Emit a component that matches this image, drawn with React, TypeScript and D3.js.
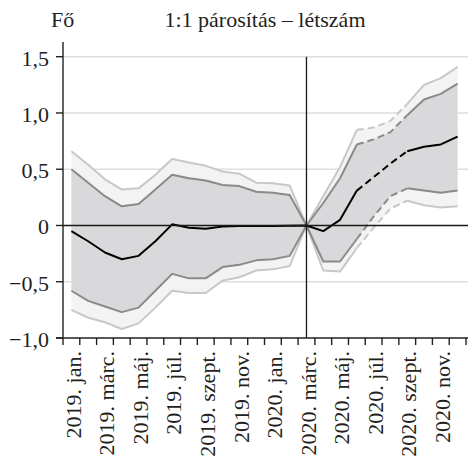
import * as d3 from "d3"

const months = [
  "2019. jan.", "2019. febr.", "2019. márc.", "2019. ápr.", "2019. máj.", "2019. jún.",
  "2019. júl.", "2019. aug.", "2019. szept.", "2019. okt.", "2019. nov.", "2019. dec.",
  "2020. jan.", "2020. febr.", "2020. márc.", "2020. ápr.", "2020. máj.", "2020. jún.",
  "2020. júl.", "2020. aug.", "2020. szept.", "2020. okt.", "2020. nov.", "2020. dec.",
]

// impulse response: median and the two confidence bands
const median = [
  -0.05, -0.14, -0.24, -0.3, -0.27, -0.14, 0.01, -0.02, -0.03, -0.01, -0.005, -0.005,
  -0.005, -0.003, 0, -0.05, 0.05, 0.31, 0.43, 0.55, 0.66, 0.7, 0.72, 0.79,
]
const innerUpper = [
  0.5, 0.38, 0.26, 0.17, 0.19, 0.32, 0.45, 0.42, 0.4, 0.36, 0.35, 0.3,
  0.29, 0.27, 0, 0.2, 0.42, 0.72, 0.765, 0.83, 0.98, 1.12, 1.17, 1.26,
]
const outerUpper = [
  0.66, 0.54, 0.41, 0.32, 0.33, 0.45, 0.59, 0.56, 0.53, 0.48, 0.46, 0.38,
  0.375, 0.355, 0, 0.26, 0.52, 0.85, 0.87, 0.93, 1.08, 1.25, 1.31, 1.41,
]
const innerLower = [
  -0.58, -0.67, -0.72, -0.77, -0.73, -0.58, -0.43, -0.47, -0.47, -0.37, -0.35, -0.31,
  -0.3, -0.27, 0, -0.32, -0.32, -0.12, 0.08, 0.26, 0.33, 0.31, 0.29, 0.31,
]
const outerLower = [
  -0.75, -0.82, -0.86, -0.92, -0.87, -0.73, -0.58, -0.6, -0.6, -0.49, -0.46, -0.4,
  -0.39, -0.36, 0, -0.4, -0.41, -0.2, -0.02, 0.15, 0.22, 0.18, 0.16, 0.17,
]

const yTicks = [-1, -0.5, 0, 0.5, 1, 1.5]
const labelledMonths = months.filter((_, i) => i % 2 === 0)
const shockMonth = "2020. márc."
const dashFrom = "2020. jún."
const dashTo = "2020. szept."

const width = 474
const height = 459
const font = "'Liberation Serif', 'Times New Roman', serif"

export default function App() {
  const x = d3.scaleBand<string>().domain(months).range([63, 466]).padding(0)
  const y = d3.scaleLinear().domain([-1, 1.5]).range([338, 56.7])
  const cx = (i: number) => (x(months[i]) as number) + x.bandwidth() / 2

  const idx = d3.range(months.length)
  const dA = months.indexOf(dashFrom)
  const dB = months.indexOf(dashTo)

  const band = (lo: number[], hi: number[]) =>
    d3
      .area<number>()
      .x((i) => cx(i))
      .y0((i) => y(lo[i]))
      .y1((i) => y(hi[i]))(idx) as string

  const seg = (vals: number[], from: number, to: number) =>
    d3
      .line<number>()
      .x((i) => cx(i))
      .y((i) => y(vals[i]))(d3.range(from, to + 1)) as string

  const series = [
    { vals: outerUpper, color: "#c8c8c8", w: 2 },
    { vals: outerLower, color: "#c8c8c8", w: 2 },
    { vals: innerUpper, color: "#8a8a8a", w: 2 },
    { vals: innerLower, color: "#8a8a8a", w: 2 },
    { vals: median, color: "#000000", w: 2 },
  ]

  const fmt = (v: number) => (v === 0 ? "0" : d3.format(".1f")(v).replace(".", ",").replace("-", "−"))
  const left = x.range()[0]
  const right = x.range()[1]
  const tickXs = [...months.map((m) => x(m) as number), right]
  const shockX = cx(months.indexOf(shockMonth))

  return (
    <svg width={width} height={height} style={{ position: "absolute", left: 0, top: 0 }} fontFamily={font}>
      <rect width={width} height={height} fill="#ffffff" />

      {/* gridlines */}
      {yTicks
        .filter((t) => t !== 0 && t !== -1)
        .map((t) => (
          <line key={t} x1={left} x2={right + 2} y1={y(t)} y2={y(t)} stroke="#dedede" strokeWidth={1.5} />
        ))}

      {/* confidence bands */}
      <path d={band(outerLower, outerUpper)} fill="#f3f3f3" />
      <path d={band(innerLower, innerUpper)} fill="#d9d9db" />

      {/* lines, dashed for the middle part after the shock */}
      {series.map((s, k) => (
        <g key={k} fill="none" stroke={s.color} strokeWidth={s.w} strokeLinejoin="round">
          <path d={seg(s.vals, 0, dA)} />
          <path d={seg(s.vals, dA, dB)} strokeDasharray="7,4" />
          <path d={seg(s.vals, dB, months.length - 1)} />
        </g>
      ))}

      {/* zero line and shock marker */}
      <line x1={left} x2={right + 2} y1={y(0)} y2={y(0)} stroke="#1a1a1a" strokeWidth={1.3} />
      <line x1={shockX} x2={shockX} y1={y(1.5)} y2={y(-1)} stroke="#1a1a1a" strokeWidth={1.3} />

      {/* y axis */}
      <line x1={left} x2={left} y1={42} y2={y(-1)} stroke="#231f20" strokeWidth={1.4} />
      {yTicks.map((t) => (
        <g key={t}>
          <line x1={left - 7} x2={left} y1={y(t)} y2={y(t)} stroke="#231f20" strokeWidth={1.4} />
          <text x={left - 14} y={y(t)} dy="0.4em" textAnchor="end" fontSize={22} fill="#231f20">
            {fmt(t)}
          </text>
        </g>
      ))}

      {/* x axis */}
      <line x1={left - 7} x2={right + 2} y1={y(-1)} y2={y(-1)} stroke="#231f20" strokeWidth={1.4} />
      {tickXs.map((tx, i) => (
        <line key={i} x1={tx} x2={tx} y1={y(-1)} y2={y(-1) + 7} stroke="#231f20" strokeWidth={1.4} />
      ))}
      {labelledMonths.map((m) => {
        const tx = (x(m) as number) + x.bandwidth() / 2
        return (
          <text
            key={m}
            transform={`translate(${tx},${y(-1) + 13}) rotate(-90)`}
            dy="0.42em"
            textAnchor="end"
            fontSize={22}
            fill="#231f20"
          >
            {m}
          </text>
        )
      })}

      {/* titles */}
      <text x={51} y={27} fontSize={22} fill="#231f20">
        Fő
      </text>
      <text x={265} y={27} textAnchor="middle" fontSize={22} fill="#231f20">
        1:1 párosítás – létszám
      </text>
    </svg>
  )
}
